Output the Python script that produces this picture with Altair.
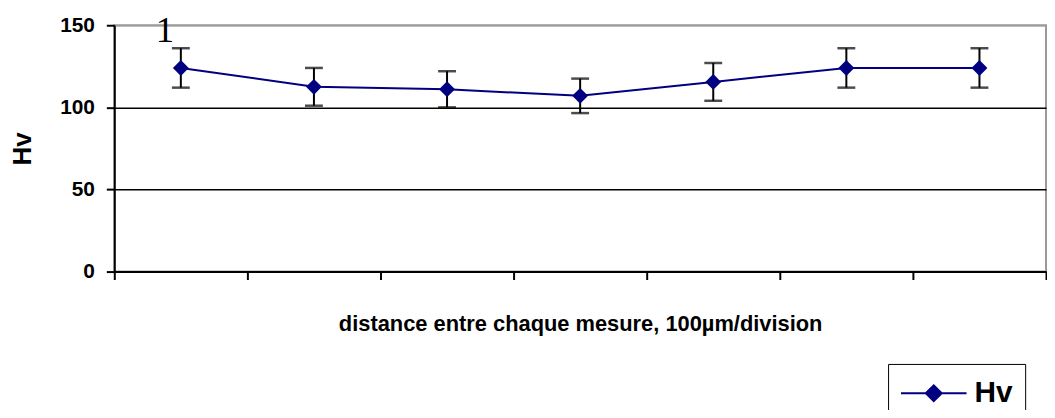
import altair as alt
import pandas as pd

# ---- data ----
positions = [1, 2, 3, 4, 5, 6, 7]
hv_values = [124, 112.5, 111, 107, 115.5, 124, 124]
hv_errors = [12, 11.5, 11, 10.5, 11.5, 12, 12]
series_name = ["Hv"] * 7
y_ticks = [0, 50, 100, 150]
x_boundaries = [0.5, 1.5, 2.5, 3.5, 4.5, 5.5, 6.5, 7.5]
annot_x = [1]
annot_y = [150]
annot_text = ["1"]

df = pd.DataFrame({"pos": positions, "hv": hv_values, "err": hv_errors, "series": series_name})
df["lo"] = df["hv"] - df["err"]
df["hi"] = df["hv"] + df["err"]
annot = pd.DataFrame({"pos": annot_x, "hv": annot_y, "txt": annot_text})

NAVY = "#000080"
FONT = "Liberation Sans"

x_axis = alt.Axis(values=x_boundaries, labels=False, grid=False, tickSize=8, tickColor="black",
                  tickWidth=2, domainColor="black", domainWidth=2,
                  title="distance entre chaque mesure, 100µm/division", titleFont=FONT,
                  titleFontSize=22, titleFontWeight="bold", titleColor="black", titlePadding=33)
x_scale = alt.Scale(domain=[0.5, 7.5], nice=False, zero=False)

y_axis = alt.Axis(values=y_ticks, grid=True,
                  gridColor=alt.condition("datum.value == 150", alt.value("#999999"), alt.value("black")),
                  gridWidth=1.5, tickSize=8, tickColor="black", tickWidth=2,
                  domainColor="black", domainWidth=2, labelFont=FONT, labelFontSize=21,
                  labelFontWeight="bold", labelColor="black", labelPadding=12,
                  title="Hv", titleFont=FONT, titleFontSize=26, titleFontWeight="bold",
                  titleColor="black", titlePadding=24)
y_scale = alt.Scale(domain=[0, 150], nice=False, zero=True)

legend = alt.Legend(title=None, orient="none", legendX=779, legendY=341,
                    symbolType="M-1,0H3M0.515,0L1,-0.485L1.485,0L1,0.485Z", symbolSize=1089,
                    symbolStrokeWidth=2, symbolStrokeColor=NAVY, symbolFillColor=NAVY,
                    labelFont=FONT, labelFontSize=30, labelFontWeight="bold", labelColor="black",
                    labelOffset=40, padding=12, strokeColor="black", fillColor="white")

color = alt.Color("series:N", scale=alt.Scale(range=[NAVY]), legend=legend)

X = alt.X("pos:Q", scale=x_scale, axis=x_axis)
Y = alt.Y("hv:Q", scale=y_scale, axis=y_axis)

bars = alt.Chart(df).mark_rule(color="black", strokeWidth=2).encode(
    x=X, y=alt.Y("lo:Q", scale=y_scale, axis=y_axis), y2="hi:Q")
caps_lo = alt.Chart(df).mark_tick(color="black", thickness=2.5, size=18, orient="horizontal").encode(
    x=X, y=alt.Y("lo:Q", scale=y_scale, axis=y_axis))
caps_hi = alt.Chart(df).mark_tick(color="black", thickness=2.5, size=18, orient="horizontal").encode(
    x=X, y=alt.Y("hi:Q", scale=y_scale, axis=y_axis))
line = alt.Chart(df).mark_line(strokeWidth=2).encode(x=X, y=Y, color=color)
pts = alt.Chart(df).mark_point(shape="diamond", filled=True, size=256, opacity=1).encode(
    x=X, y=Y, color=color)
label = alt.Chart(annot).mark_text(font="Liberation Serif", fontSize=37, color="black",
                                   baseline="alphabetic", dx=-16, dy=17).encode(
    x=X, y=Y, text="txt:N")

chart = alt.layer(bars, caps_lo, caps_hi, line, pts, label).properties(
    width=938, height=248,
    autosize=alt.AutoSizeParams(type="none"),
    padding={"left": 107, "top": 16, "right": 1, "bottom": 138},
    background="white",
).configure_view(stroke="#999999", strokeWidth=2)

chart.save("out.html", embed_options={"renderer": "svg", "actions": False})
